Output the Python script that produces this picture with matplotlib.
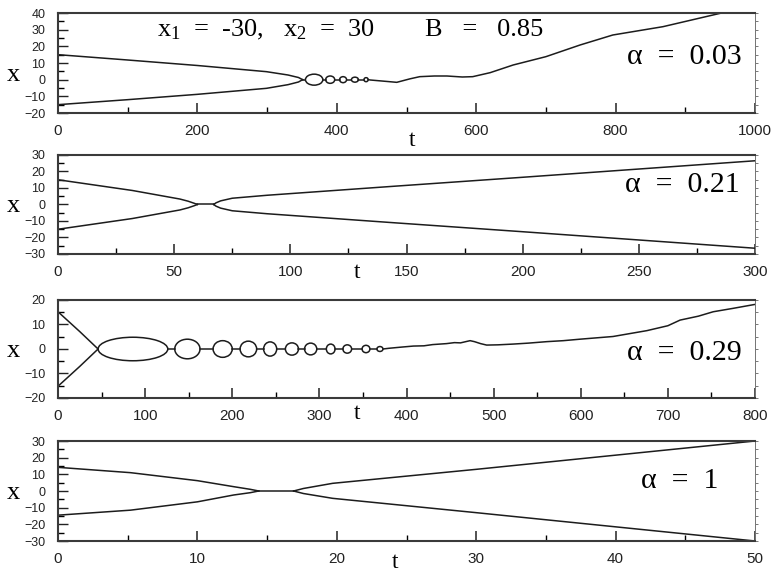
'''
plot.py
Four stacked trajectory panels x(t) for different alpha values
'''
import matplotlib
matplotlib.use('Agg')
import matplotlib.pyplot as plt
from matplotlib.patches import Ellipse
import numpy as np

plt.rcParams['font.family'] = ['Liberation Sans', 'DejaVu Sans']
plt.rcParams['mathtext.fontset'] = 'custom'
plt.rcParams['mathtext.rm'] = 'Liberation Serif'
plt.rcParams['mathtext.it'] = 'Liberation Serif'

SERIF = ['Liberation Serif', 'DejaVu Serif']
LINE = '#1c1c1c'
LW = 1.1

# ---- alpha = 0.03 ----
a1_in_t = [0, 100, 200, 299, 330, 345, 351]
a1_up_x = [15, 11.8, 8.5, 4.8, 2.8, 1.3, 0]
a1_lo_x = [-15, -12, -8.8, -5.2, -3.0, -1.4, 0]
a1_loop_start = [355, 384, 404, 421, 439]
a1_loop_end = [380, 397, 414, 431, 445]
a1_loop_amp = [3.3, 2.2, 1.8, 1.5, 1.2]
a1_out_t = [445, 448, 470, 486, 505, 519, 540, 558, 580, 595, 620, 653, 700, 749, 796, 868, 952, 1000]
a1_out_x = [0, -0.2, -1.0, -1.6, 0.5, 1.8, 2.2, 2.2, 1.6, 1.8, 4.2, 8.8, 13.8, 20.8, 26.8, 31.8, 40, 44]

# ---- alpha = 0.21 ----
a2_in_t = [0, 32, 52.5, 56, 58.5, 60]
a2_up_in = [15, 8.5, 3.3, 2.0, 0.8, 0]
a2_lo_in = [-15, -8.5, -3.3, -2.0, -0.8, 0]
a2_out_t = [67, 68, 70, 75, 90, 144, 200, 250, 300]
a2_up_out = [0, 1.0, 2.2, 3.8, 5.6, 11, 16.5, 21.5, 26.5]
a2_lo_out = [0, -1.0, -2.2, -3.8, -5.6, -11, -16.5, -21.5, -26.5]

# ---- alpha = 0.29 ----
a3_in_t = [0, 25, 46]
a3_up_x = [15.2, 7.1, 0]
a3_lo_x = [-15.2, -7.1, 0]
a3_loop_start = [46, 134, 178, 209, 236, 261, 283, 308, 327, 349, 366]
a3_loop_end = [126, 163, 200, 228, 251, 276, 297, 318, 337, 358, 373]
a3_loop_amp = [4.8, 4.0, 3.4, 3.2, 2.9, 2.5, 2.4, 2.0, 1.7, 1.5, 1.0]
a3_out_t = [373, 380, 395, 408, 420, 430, 446, 455, 462, 468, 473, 478, 485, 492, 505, 522, 540,
            561, 580, 599, 637, 676, 700, 714, 735, 752, 775, 800]
a3_out_x = [0, 0.3, 0.8, 1.2, 1.3, 1.8, 2.2, 2.6, 2.5, 3.0, 3.4, 3.0, 2.2, 1.6, 1.7, 2.0, 2.4,
            3.0, 3.4, 4.0, 5.1, 7.5, 9.5, 11.8, 13.4, 15.2, 16.6, 18.2]

# ---- alpha = 1 ----
a4_in_t = [0, 5.2, 10, 12.6, 13.8, 14.4]
a4_up_in = [14.2, 11, 6.2, 2.6, 1.0, 0]
a4_lo_in = [-14.5, -11.5, -6.5, -2.4, -1.0, 0]
a4_out_t = [16.9, 17.6, 19.7, 30, 40, 50]
a4_up_out = [0, 1.5, 4.6, 13, 21.5, 30]
a4_lo_out = [0, -1.5, -4.4, -13, -21.5, -30]

# axis setup: (xmax, x major, x minor, ymin, ymax)
panel_axes = [(1000, 200, 100, -20, 40),
              (300, 50, 25, -30, 30),
              (800, 100, 50, -20, 20),
              (50, 10, 5, -30, 30)]
alpha_labels = ['α  =  0.03', 'α  =  0.21', 'α  =  0.29', 'α  =  1']


def style_axis(ax, xmax, xmaj, xmin, ymin, ymax):
    ax.set_xlim(0, xmax)
    ax.set_ylim(ymin, ymax)
    ax.set_xticks(np.arange(0, xmax + 1, xmaj))
    ax.set_xticks(np.arange(0, xmax + 1, xmin), minor=True)
    ax.set_yticks(np.arange(ymin, ymax + 1, 10))
    ax.set_yticks(np.arange(ymin, ymax + 1, 5), minor=True)
    ax.tick_params(axis='x', which='major', direction='in', length=7, width=1.1,
                   pad=8, labelsize=11, colors='#222')
    ax.tick_params(axis='x', which='minor', direction='in', length=4, width=1.0)
    ax.tick_params(axis='y', which='major', direction='in', length=7, width=1.0,
                   pad=9, labelsize=9, colors='#222')
    ax.tick_params(axis='y', which='minor', direction='in', length=4, width=1.0)
    for side in ('top', 'bottom', 'left'):
        ax.spines[side].set_linewidth(1.5)
        ax.spines[side].set_color('#3a3a3a')
    ax.spines['right'].set_linewidth(0.7)
    ax.spines['right'].set_color('#777')
    sec = ax.secondary_yaxis('right')
    sec.set_yticks(np.arange(ymin, ymax + 1, 5))
    sec.tick_params(direction='out', length=2.5, width=0.7, colors='#777', labelright=False)
    sec.spines['right'].set_linewidth(0.7)
    sec.spines['right'].set_color('#777')


def draw_loops(ax, t_in_end, starts, ends, amps, t_out_start):
    for s, e, a in zip(starts, ends, amps):
        ax.add_patch(Ellipse(((s + e) / 2, 0), e - s, 2 * a, fill=False,
                             ec=LINE, lw=LW))
    for e, s in zip([t_in_end] + ends, starts + [t_out_start]):
        ax.plot([e, s], [0, 0], color=LINE, lw=LW)


fig = plt.figure(figsize=(7.72, 5.74), dpi=100)
W, H = 772, 574
tops = [13, 155, 300, 441]
bottoms = [113, 254, 398, 541]
left, right = 58, 755
axs = []
for tp, bt in zip(tops, bottoms):
    axs.append(fig.add_axes([left / W, 1 - bt / H, (right - left) / W, (bt - tp) / H]))

for ax, cfg in zip(axs, panel_axes):
    style_axis(ax, *cfg)

# panel 1
ax = axs[0]
ax.plot(a1_in_t, a1_up_x, color=LINE, lw=LW)
ax.plot(a1_in_t, a1_lo_x, color=LINE, lw=LW)
draw_loops(ax, a1_in_t[-1], a1_loop_start, a1_loop_end, a1_loop_amp, a1_out_t[0])
ax.plot(a1_out_t, a1_out_x, color=LINE, lw=LW)
ax.text(0.142, 0.83, r'x$_1$  =  -30,   x$_2$  =  30', transform=ax.transAxes,
        ha='left', va='center', fontsize=19, family=SERIF)
ax.text(0.5265, 0.83, 'B   =   0.85', transform=ax.transAxes,
        ha='left', va='center', fontsize=19, family=SERIF)

# panel 2
ax = axs[1]
ax.plot(a2_in_t, a2_up_in, color=LINE, lw=LW)
ax.plot(a2_in_t, a2_lo_in, color=LINE, lw=LW)
ax.plot([a2_in_t[-1], a2_out_t[0]], [0, 0], color=LINE, lw=LW)
ax.plot(a2_out_t, a2_up_out, color=LINE, lw=LW)
ax.plot(a2_out_t, a2_lo_out, color=LINE, lw=LW)

# panel 3
ax = axs[2]
ax.plot(a3_in_t, a3_up_x, color=LINE, lw=LW)
ax.plot(a3_in_t, a3_lo_x, color=LINE, lw=LW)
draw_loops(ax, a3_in_t[-1], a3_loop_start, a3_loop_end, a3_loop_amp, a3_out_t[0])
ax.plot(a3_out_t, a3_out_x, color=LINE, lw=LW)

# panel 4
ax = axs[3]
ax.plot(a4_in_t, a4_up_in, color=LINE, lw=LW)
ax.plot(a4_in_t, a4_lo_in, color=LINE, lw=LW)
ax.plot([a4_in_t[-1], a4_out_t[0]], [0, 0], color=LINE, lw=LW)
ax.plot(a4_out_t, a4_up_out, color=LINE, lw=LW)
ax.plot(a4_out_t, a4_lo_out, color=LINE, lw=LW)

# labels
alpha_pos = [(0.981, 0.565), (0.978, 0.70), (0.981, 0.46), (0.947, 0.60)]
xlabel_pos = [(0.508, -0.27), (0.429, -0.19), (0.429, -0.16), (0.483, -0.21)]
ylabel_y = [0.38, 0.48, 0.48, 0.48]
for ax, lab, ap, xp, yy in zip(axs, alpha_labels, alpha_pos, xlabel_pos, ylabel_y):
    ax.text(ap[0], ap[1], lab, transform=ax.transAxes, ha='right', va='center',
            fontsize=21.5, family=SERIF)
    ax.set_xlabel('t', fontsize=17, family=SERIF)
    ax.xaxis.set_label_coords(*xp)
    ax.xaxis.label.set_va('center')
    ax.set_ylabel('x', fontsize=19, family=SERIF, rotation=0, ha='center', va='center')
    ax.yaxis.set_label_coords(-0.064, yy)

fig.savefig('out.png', dpi=100, facecolor='white')
